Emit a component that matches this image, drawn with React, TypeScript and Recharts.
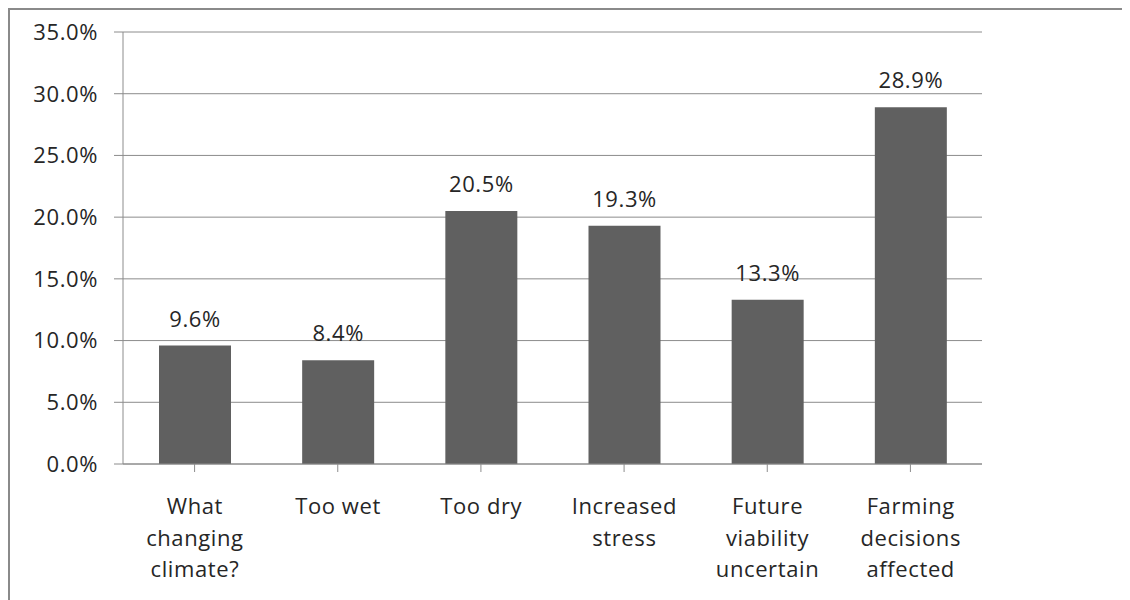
import React from 'react';
import { BarChart, Bar, XAxis, YAxis, CartesianGrid, LabelList } from 'recharts';

const categories = [
  'What\nchanging\nclimate?',
  'Too wet',
  'Too dry',
  'Increased\nstress',
  'Future\nviability\nuncertain',
  'Farming\ndecisions\naffected',
];
const shares = [9.6, 8.4, 20.5, 19.3, 13.3, 28.9];
const yTicks = [0, 5, 10, 15, 20, 25, 30, 35];

const data = categories.map((name, i) => ({ name, value: shares[i] }));

const FONT = '"Open Sans", "Noto Sans", sans-serif';
const TEXT = '#262626';
const GRID = '#8c8c8c';
const SIZE = 22;
const SPACING = 0.6;

const CategoryTick = (props: any) => {
  const { x, y, payload } = props;
  const lines = String(payload.value).split('\n');
  return (
    <text
      x={x}
      y={y}
      textAnchor="middle"
      fill={TEXT}
      fontFamily={FONT}
      fontSize={SIZE}
      letterSpacing={SPACING}
    >
      {lines.map((line, i) => (
        <tspan key={i} x={x + SPACING / 2} dy={i === 0 ? 40 : 31.5}>
          {line}
        </tspan>
      ))}
    </text>
  );
};

const App: React.FC = () => {
  return (
    <div
      style={{
        width: 1140,
        height: 620,
        border: '2px solid #8a8a8a',
        background: '#fff',
        overflow: 'hidden',
      }}
    >
      <BarChart
        width={1120}
        height={600}
        data={data}
        margin={{ top: 22, right: 148, bottom: 0, left: 0 }}
        barSize={72}
      >
        <CartesianGrid vertical={false} stroke={GRID} strokeWidth={1} />
        <XAxis
          dataKey="name"
          interval={0}
          stroke={GRID}
          tickSize={8}
          tickLine={{ stroke: GRID }}
          axisLine={{ stroke: GRID }}
          tick={<CategoryTick />}
          height={146}
        />
        <YAxis
          type="number"
          domain={[0, 35]}
          ticks={yTicks}
          width={113}
          stroke={GRID}
          tickSize={9}
          tickMargin={16}
          tickFormatter={(v: number) => `${v.toFixed(1)}%`}
          tick={{ fill: TEXT, fontFamily: FONT, fontSize: SIZE, letterSpacing: SPACING }}
        />
        <Bar dataKey="value" fill="#606060" isAnimationActive={false}>
          <LabelList
            dataKey="value"
            position="top"
            offset={19}
            formatter={(v: any) => `${Number(v).toFixed(1)}%`}
            style={{ fill: TEXT, fontFamily: FONT, fontSize: SIZE, letterSpacing: SPACING }}
          />
        </Bar>
      </BarChart>
    </div>
  );
};

export default App;
